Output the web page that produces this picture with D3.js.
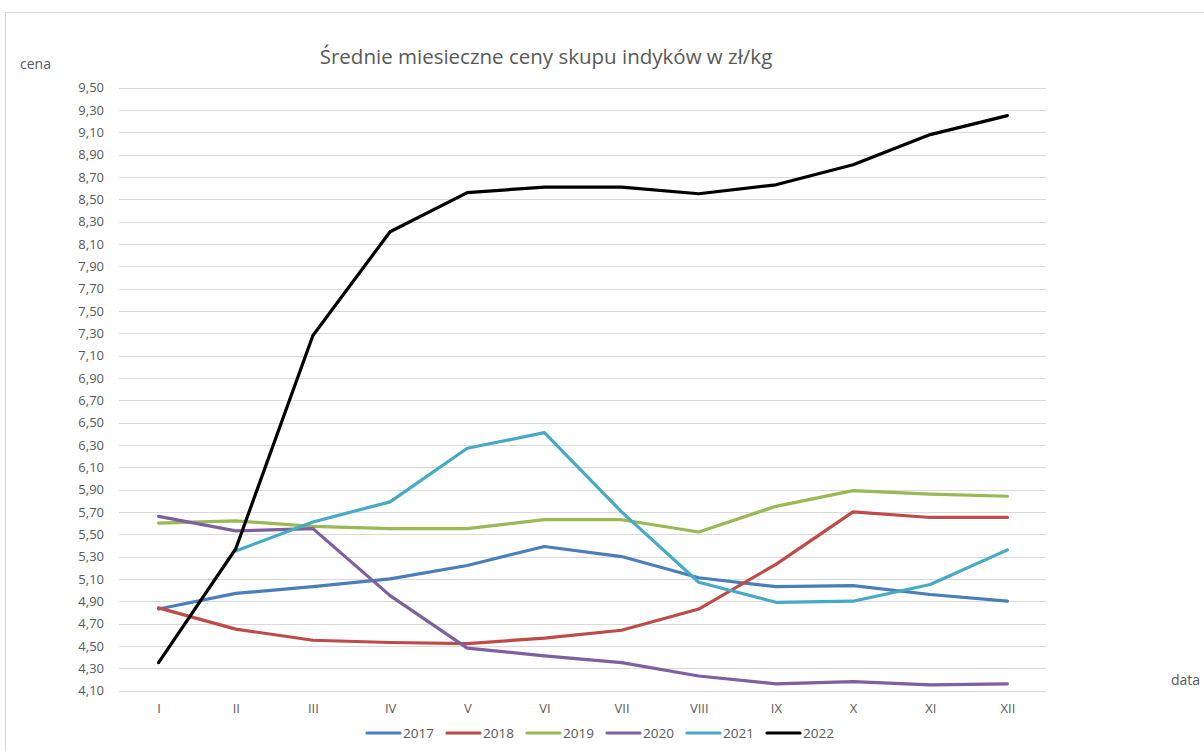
<!DOCTYPE html>
<html><head><meta charset="utf-8">
<script src="https://cdn.jsdelivr.net/npm/d3@7"></script>
<style>body{margin:0;background:#fff;} text{font-family:"Open Sans",sans-serif;fill:#595959;}</style>
</head><body>
<svg id="c" width="1204" height="751"></svg>
<script>
const months = ["I","II","III","IV","V","VI","VII","VIII","IX","X","XI","XII"];
const years = ["2017","2018","2019","2020","2021","2022"];
const v2017 = [4.83,4.97,5.03,5.10,5.22,5.39,5.30,5.11,5.03,5.04,4.96,4.90];
const v2018 = [4.84,4.65,4.55,4.53,4.52,4.57,4.64,4.83,5.23,5.70,5.65,5.65];
const v2019 = [5.60,5.62,5.57,5.55,5.55,5.63,5.63,5.52,5.75,5.89,5.86,5.84];
const v2020 = [5.66,5.53,5.55,4.95,4.48,4.41,4.35,4.23,4.16,4.18,4.15,4.16];
const v2021 = [null,5.35,5.61,5.79,6.27,6.41,5.70,5.07,4.89,4.90,5.05,5.36];
const v2022 = [4.35,5.37,7.28,8.21,8.56,8.61,8.61,8.55,8.63,8.81,9.08,9.25];
const yTicks = d3.range(4.10, 9.501, 0.20);
const colors = ["#4a7ebb","#be4b48","#98b954","#7d60a0","#46aac5","#000000"];
const seriesVals = [v2017,v2018,v2019,v2020,v2021,v2022];

const svg = d3.select("#c");
svg.append("rect").attr("x",5.5).attr("y",12.5).attr("width",1200).attr("height",760)
  .attr("fill","none").attr("stroke","#d9d9d9");

const x = d3.scalePoint().domain(months).range([120,1046]).padding(0.5);
const y = d3.scaleLinear().domain([4.10,9.50]).range([690.5,87.7]);

svg.append("g").selectAll("line").data(yTicks).join("line")
  .attr("x1",119).attr("x2",1046)
  .attr("y1",d=>Math.round(y(d))+0.5).attr("y2",d=>Math.round(y(d))+0.5)
  .attr("stroke","#d9d9d9").attr("stroke-width",1);

const ya = svg.append("g").attr("transform","translate(112,0)")
  .call(d3.axisLeft(y).tickValues(yTicks).tickSize(0).tickPadding(8)
    .tickFormat(d=>d3.format(".2f")(d).replace(".",",")));
ya.select(".domain").remove();
ya.selectAll("text").attr("font-size",13).style("font-family","'Open Sans',sans-serif").attr("fill","#595959");

const xa = svg.append("g").attr("transform","translate(0,690)")
  .call(d3.axisBottom(x).tickSize(0).tickPadding(14));
xa.select(".domain").remove();
xa.selectAll("text").attr("font-size",13).style("font-family","'Open Sans',sans-serif").attr("fill","#595959");

const line = d3.line().defined(d=>d.v!=null).x(d=>x(d.m)).y(d=>y(d.v));
seriesVals.forEach((vals,i)=>{
  svg.append("path").datum(vals.map((v,j)=>({m:months[j],v})))
    .attr("d",line).attr("fill","none").attr("stroke",colors[i])
    .attr("stroke-width",3.2).attr("stroke-linejoin","round").attr("stroke-linecap","round");
});

svg.append("text").attr("x",546).attr("y",64).attr("text-anchor","middle")
  .attr("font-size",20.5).text("Średnie miesieczne ceny skupu indyków w zł/kg");
svg.append("text").attr("x",20).attr("y",69).attr("font-size",14).text("cena");
svg.append("text").attr("x",1171).attr("y",685).attr("font-size",14).text("data");

const lg = svg.append("g");
years.forEach((yr,i)=>{
  const lx = 367 + i*80;
  lg.append("line").attr("x1",lx).attr("x2",lx+33).attr("y1",733).attr("y2",733)
    .attr("stroke",colors[i]).attr("stroke-width",3.2).attr("stroke-linecap","round");
  lg.append("text").attr("x",lx+36).attr("y",738).attr("font-size",13.5).text(yr);
});
</script>
</body></html>
